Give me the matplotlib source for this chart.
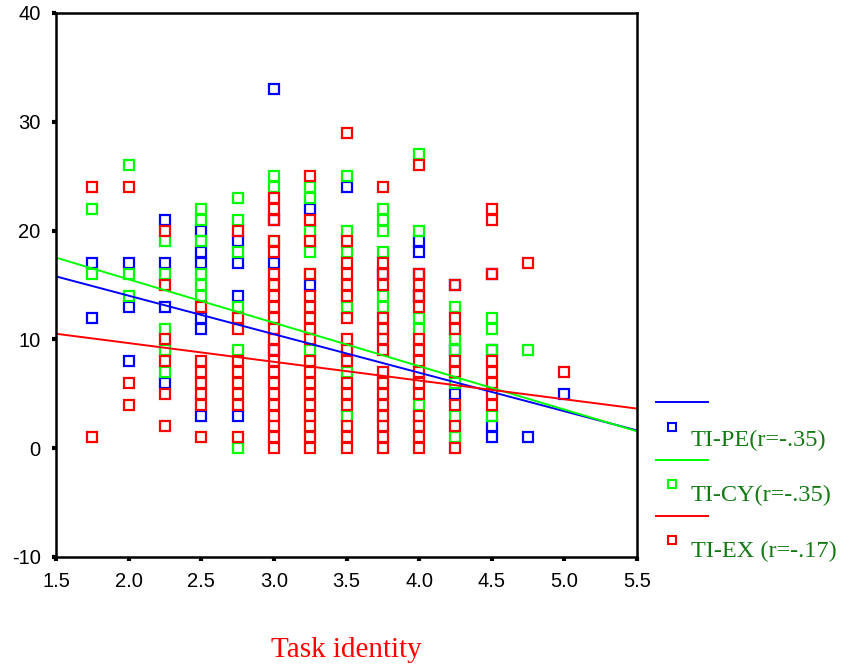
import numpy as np
import matplotlib
matplotlib.use("Agg")
import matplotlib.pyplot as plt

# ====== data ======
task_levels = [1.75, 2.0, 2.25, 2.5, 2.75, 3.0, 3.25, 3.5, 3.75, 4.0, 4.25, 4.5, 4.75, 5.0]

pe_values = [
    [17, 12],
    [17, 13, 8],
    [21, 17, 13, 6],
    [20, 18, 17, 12, 11, 3],
    [19, 17, 14, 3],
    [33, 21, 17, 9],
    [22, 15],
    [24],
    [16],
    [19, 18, 16, 14],
    [15, 9, 5],
    [16, 9, 2, 1],
    [1],
    [5],
]
cy_values = [
    [22, 16],
    [26, 16, 14],
    [19, 16, 11, 9, 7],
    [22, 21, 19, 16, 15, 14],
    [23, 21, 18, 13, 9, 0],
    [25, 24, 19, 15],
    [24, 23, 20, 18, 16, 9],
    [25, 20, 18, 13, 7, 3],
    [22, 21, 20, 18, 14, 13],
    [27, 20, 12, 11, 4],
    [13, 10, 9, 6, 3, 1],
    [12, 11, 9, 3],
    [9],
    [],
]
ex_values = [
    [24, 1],
    [24, 6, 4],
    [20, 15, 10, 8, 5, 2],
    [13, 8, 7, 6, 5, 4, 1],
    [20, 12, 11, 8, 7, 6, 5, 4, 1],
    [23, 22, 21, 19, 18, 16, 15, 14, 13, 12, 11, 10, 9, 8, 7, 6, 5, 4, 3, 2, 1, 0],
    [25, 21, 19, 16, 14, 13, 12, 11, 10, 8, 7, 6, 5, 4, 3, 2, 1, 0],
    [29, 19, 17, 16, 15, 14, 12, 10, 9, 8, 6, 5, 4, 2, 1, 0],
    [24, 17, 16, 15, 12, 11, 10, 9, 7, 6, 5, 4, 3, 2, 1, 0],
    [26, 16, 15, 14, 13, 10, 9, 8, 7, 6, 5, 3, 2, 1, 0],
    [15, 12, 11, 8, 7, 4, 2, 0],
    [22, 21, 16, 8, 7, 6, 5, 4],
    [17],
    [7],
]

# fitted lines (intercept at x=0, slope)
fit_intercepts = [21.1, 23.5, 13.1]
fit_slopes = [-3.54, -3.99, -1.72]

series_labels = ["TI-PE(r=-.35)", "TI-CY(r=-.35)", "TI-EX (r=-.17)"]
series_colors = ["#0000ff", "#00ff00", "#ff0000"]

x_ticks = [1.5, 2.0, 2.5, 3.0, 3.5, 4.0, 4.5, 5.0, 5.5]
y_ticks = [-10, 0, 10, 20, 30, 40]


def expand(columns):
    xs, ys = [], []
    for level, vals in zip(task_levels, columns):
        xs.extend([level] * len(vals))
        ys.extend(vals)
    return np.array(xs), np.array(ys)


W, H = 846, 667
fig = plt.figure(figsize=(W / 100, H / 100), dpi=100)
ax = fig.add_axes([56 / W, 1 - 557 / H, (637 - 56) / W, (557 - 13) / H])

all_series = [pe_values, cy_values, ex_values]
for vals, color in zip(all_series, series_colors):
    xs, ys = expand(vals)
    ax.plot(xs, ys, linestyle="none", marker="s", markersize=6.6,
            markerfacecolor="none", markeredgecolor=color, markeredgewidth=1.6)

for b, m, color in zip(fit_intercepts, fit_slopes, series_colors):
    ax.axline((0, b), slope=m, color=color, linewidth=1.4)

ax.set_xlim(1.5, 5.5)
ax.set_ylim(-10, 40)
ax.set_xticks(x_ticks)
ax.set_xticklabels([f"{v:.1f}" for v in x_ticks])
ax.set_yticks(y_ticks)
ax.set_yticklabels([str(v) for v in y_ticks])
ax.tick_params(direction="out", length=3, width=3, labelsize=14.5, colors="black")
ax.tick_params(axis="x", pad=8)
ax.tick_params(axis="y", pad=8)
for lab in ax.get_xticklabels() + ax.get_yticklabels():
    lab.set_family("Liberation Sans")
for sp in ax.spines.values():
    sp.set_linewidth(1.8)

fig.text(346 / W, 1 - 650 / H, "Task identity", color="#ff0000",
         family="Liberation Serif", fontsize=21, ha="center", va="center")

# ====== legend drawn by hand (SPSS style) ======
lax = fig.add_axes([0, 0, 1, 1], facecolor="none")
lax.set_xlim(0, W)
lax.set_ylim(H, 0)
lax.axis("off")
line_rows = [402, 460, 516]
marker_rows = [427, 484, 540]
text_rows = [440, 495, 551]
for i in range(3):
    lax.plot([656, 708], [line_rows[i]] * 2, color=series_colors[i], linewidth=1.4)
    lax.plot([672], [marker_rows[i]], marker="s", markersize=5.5,
             markerfacecolor="none", markeredgecolor=series_colors[i],
             markeredgewidth=1.5)
    lax.text(691, text_rows[i], series_labels[i], color="#137a13",
             family="Liberation Serif", fontsize=17.5, va="center", ha="left")

fig.savefig("out.png", dpi=100)
